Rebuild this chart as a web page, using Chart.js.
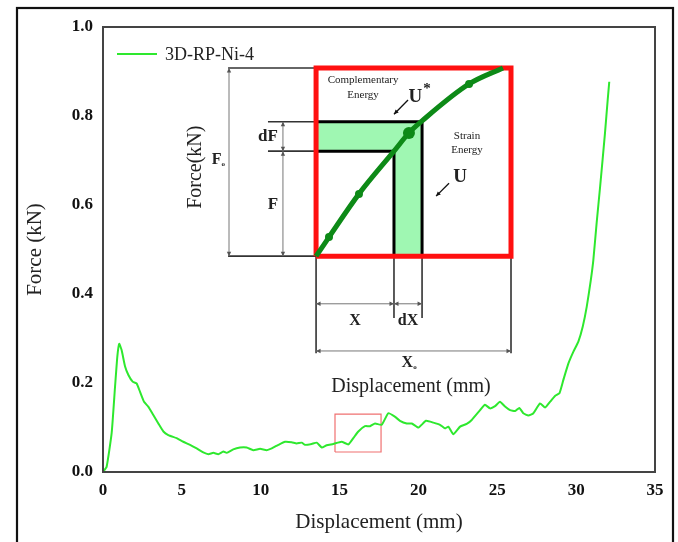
<!DOCTYPE html>
<html><head><meta charset="utf-8">
<script src="https://cdn.jsdelivr.net/npm/chart.js@4.4.0/dist/chart.umd.min.js"></script>
<style>html,body{margin:0;padding:0;background:#fff;}#wrap{width:678px;height:542px;}</style>
</head><body><div id="wrap"><canvas id="c" width="678" height="542"></canvas></div>
<script>
// ---- main series ----
const seriesLabel = '3D-RP-Ni-4';
const displacement = [0,0.23,0.55,0.76,0.91,1.03,1.18,1.40,1.61,1.88,2.13,2.35,2.60,2.87,3.19,3.51,3.83,4.14,4.67,5.09,5.52,5.94,6.36,6.68,7.00,7.31,7.63,7.84,8.26,8.69,9.11,9.53,9.96,10.38,10.70,11.12,11.54,11.96,12.28,12.60,12.81,13.23,13.55,13.87,14.18,14.60,15.13,15.56,15.87,16.19,16.61,16.93,17.25,17.67,18.09,18.52,18.83,19.26,19.58,20.00,20.48,20.95,21.37,21.69,21.90,22.21,22.64,23.06,23.38,23.91,24.22,24.54,24.86,25.17,25.49,25.81,26.13,26.40,26.65,26.97,27.29,27.71,28.03,28.35,28.66,28.94,29.19,29.51,29.82,30.14,30.42,30.67,30.93,31.09,31.30,31.52,31.83,32.00,32.10];
const force = [0,0.012,0.088,0.19,0.26,0.288,0.274,0.237,0.218,0.203,0.199,0.180,0.158,0.147,0.128,0.109,0.091,0.083,0.076,0.068,0.061,0.053,0.044,0.040,0.043,0.040,0.046,0.043,0.051,0.055,0.055,0.049,0.052,0.049,0.053,0.061,0.068,0.067,0.064,0.066,0.061,0.063,0.066,0.055,0.060,0.063,0.068,0.062,0.076,0.091,0.103,0.103,0.109,0.106,0.132,0.124,0.115,0.109,0.109,0.100,0.115,0.111,0.106,0.098,0.102,0.085,0.102,0.108,0.117,0.139,0.151,0.143,0.148,0.158,0.147,0.139,0.137,0.144,0.132,0.127,0.132,0.154,0.145,0.158,0.171,0.177,0.207,0.244,0.270,0.293,0.327,0.371,0.431,0.476,0.560,0.641,0.762,0.836,0.877];
const xTicks = [0,5,10,15,20,25,30,35];
const yTicks = [0.0,0.2,0.4,0.6,0.8,1.0];
// highlighted window on the curve
const highlightX = [14.71, 17.63];
const highlightY = [0.045, 0.130];
// ---- inset schematic (in main-axis units) ----
const schemXLevels = [13.51, 18.45, 20.23, 25.87];   // origin, X, X+dX, Xo
const schemFLevels = [0.485, 0.721, 0.787, 0.908];   // origin, F, F+dF, Fo
const schemCurveX = [13.51,14.33,16.23,18.45,19.40,20.23,23.21,25.36];
const schemCurveY = [0.485,0.528,0.625,0.721,0.762,0.789,0.872,0.908];
const schemMarkerIdx = [1,2,4,6];
const schemMarkerSize = [4,4,6,4];
const leaderLeftX = [7.93, 10.46];     // start of horizontal leaders (Fo, dF)
const leaderBottomY = [0.267, 0.346];  // end of vertical leaders (Xo, dX)
const dimArrowX = [7.99, 11.41];
const dimArrowY = [0.272, 0.378];

const GREEN = '#2ee82e', DARK = '#0d8a17', BAND = '#9ff7b2', RED = '#ff1010';
const serif = "'Liberation Serif','Times New Roman',serif";

const [ox, xx, xdx, xo] = schemXLevels;
const [oy, ff, fdf, fo] = schemFLevels;
const pts = (xs, ys) => xs.map((x, i) => ({x, y: ys[i]}));
const seg = (a, b) => [{x: a[0], y: a[1]}, {x: b[0], y: b[1]}];

const thickSegs = [
  seg([ox, fdf], [xdx, fdf]), seg([ox, ff], [xx, ff]),
  seg([xx, ff], [xx, oy]), seg([xdx, fdf], [xdx, oy])
];
const thinSegs = [
  seg([leaderLeftX[0], fo], [ox, fo]), seg([leaderLeftX[0], oy], [ox, oy]),
  seg([leaderLeftX[1], fdf], [ox, fdf]), seg([leaderLeftX[1], ff], [ox, ff]),
  seg([ox, oy], [ox, leaderBottomY[0]]), seg([xo, oy], [xo, leaderBottomY[0]]),
  seg([xx, oy], [xx, leaderBottomY[1]]), seg([xdx, oy], [xdx, leaderBottomY[1]])
];

const datasets = [];
datasets.push({label: seriesLabel, data: pts(displacement, force), showLine: true, borderColor: GREEN, borderWidth: 2, pointRadius: 0, tension: 0.15, order: 1});
datasets.push({label: '_hl', data: pts([highlightX[0], highlightX[1], highlightX[1], highlightX[0], highlightX[0]], [highlightY[0], highlightY[0], highlightY[1], highlightY[1], highlightY[0]]), showLine: true, borderColor: '#f07070', borderWidth: 1.2, pointRadius: 0, order: 2});
datasets.push({label: '_markers', data: schemMarkerIdx.map(i => ({x: schemCurveX[i], y: schemCurveY[i]})), showLine: false, pointRadius: schemMarkerSize, pointBackgroundColor: DARK, pointBorderWidth: 0, order: 3});
datasets.push({label: '_curve', data: pts(schemCurveX, schemCurveY), showLine: true, borderColor: DARK, borderWidth: 5, pointRadius: 0, cubicInterpolationMode: 'monotone', order: 4});
datasets.push({label: '_box', data: pts([ox, xo, xo, ox, ox], [oy, oy, fo, fo, oy]), showLine: true, borderColor: RED, borderWidth: 5, pointRadius: 0, order: 5, borderJoinStyle: 'miter'});
thickSegs.forEach(s => datasets.push({label: '_t', data: s, showLine: true, borderColor: '#000', borderWidth: 3, pointRadius: 0, order: 6}));
datasets.push({label: '_band', data: pts([ox, xdx, xdx, xx, xx, ox, ox], [fdf, fdf, oy, oy, ff, ff, fdf]), showLine: true, borderWidth: 0, borderColor: 'rgba(0,0,0,0)', backgroundColor: BAND, fill: 'shape', pointRadius: 0, order: 7});
thinSegs.forEach(s => datasets.push({label: '_l', data: s, showLine: true, borderColor: '#333', borderWidth: 1.6, pointRadius: 0, order: 8}));

function head(ctx, x1, y1, x2, y2, size) {
  const a = Math.atan2(y2 - y1, x2 - x1);
  ctx.beginPath();
  ctx.moveTo(x2, y2);
  ctx.lineTo(x2 - size * Math.cos(a - 0.45), y2 - size * Math.sin(a - 0.45));
  ctx.lineTo(x2 - size * Math.cos(a + 0.45), y2 - size * Math.sin(a + 0.45));
  ctx.closePath(); ctx.fill();
}
function dim(ctx, x1, y1, x2, y2) {
  ctx.beginPath(); ctx.moveTo(x1, y1); ctx.lineTo(x2, y2); ctx.stroke();
  head(ctx, x1, y1, x2, y2, 5); head(ctx, x2, y2, x1, y1, 5);
}
function txt(ctx, s, x, y, font, align) {
  ctx.font = font; ctx.textAlign = align || 'center'; ctx.textBaseline = 'middle'; ctx.fillText(s, x, y);
}

const decor = {
  id: 'decor',
  afterDatasetsDraw(chart) {
    const ctx = chart.ctx, X = v => chart.scales.x.getPixelForValue(v), Y = v => chart.scales.y.getPixelForValue(v);
    const a = chart.chartArea;
    ctx.save();
    // plot frame
    ctx.strokeStyle = '#444'; ctx.lineWidth = 2;
    ctx.strokeRect(a.left, a.top, a.right - a.left, a.bottom - a.top);
    // legend
    ctx.strokeStyle = GREEN; ctx.lineWidth = 2;
    ctx.beginPath(); ctx.moveTo(a.left + 14, a.top + 27); ctx.lineTo(a.left + 54, a.top + 27); ctx.stroke();
    ctx.fillStyle = '#222';
    txt(ctx, seriesLabel, a.left + 62, a.top + 28, `18px ${serif}`, 'left');
    // dimension arrows
    ctx.strokeStyle = '#777'; ctx.fillStyle = '#555'; ctx.lineWidth = 1;
    dim(ctx, X(dimArrowX[0]), Y(fo), X(dimArrowX[0]), Y(oy));
    dim(ctx, X(dimArrowX[1]), Y(fdf), X(dimArrowX[1]), Y(ff));
    dim(ctx, X(dimArrowX[1]), Y(ff), X(dimArrowX[1]), Y(oy));
    dim(ctx, X(ox), Y(dimArrowY[1]), X(xx), Y(dimArrowY[1]));
    dim(ctx, X(xx), Y(dimArrowY[1]), X(xdx), Y(dimArrowY[1]));
    dim(ctx, X(ox), Y(dimArrowY[0]), X(xo), Y(dimArrowY[0]));
    // pointer arrows
    ctx.strokeStyle = '#111'; ctx.fillStyle = '#111'; ctx.lineWidth = 1.3;
    const ptr = (x1, y1, x2, y2) => { ctx.beginPath(); ctx.moveTo(x1, y1); ctx.lineTo(x2, y2); ctx.stroke(); head(ctx, x1, y1, x2, y2, 5); };
    ptr(X(19.34), Y(0.836), X(18.45), Y(0.804));
    ptr(X(21.94), Y(0.649), X(21.12), Y(0.620));
    // texts
    ctx.fillStyle = '#222';
    txt(ctx, 'Complementary', X(16.49), Y(0.881), `11px ${serif}`);
    txt(ctx, 'Energy', X(16.49), Y(0.848), `11px ${serif}`);
    txt(ctx, 'Strain', X(23.08), Y(0.755), `11px ${serif}`);
    txt(ctx, 'Energy', X(23.08), Y(0.723), `11px ${serif}`);
    txt(ctx, 'U', X(19.80), Y(0.843), `bold 19px ${serif}`);
    txt(ctx, '*', X(20.55), Y(0.860), `bold 15px ${serif}`);
    txt(ctx, 'U', X(22.64), Y(0.663), `bold 19px ${serif}`);
    txt(ctx, 'dF', X(10.46), Y(0.753), `bold 17px ${serif}`);
    txt(ctx, 'F', X(10.78), Y(0.602), `bold 17px ${serif}`);
    txt(ctx, 'F', X(7.20), Y(0.701), `bold 16px ${serif}`);
    txt(ctx, 'o', X(7.62), Y(0.691), `bold 7px ${serif}`);
    txt(ctx, 'X', X(15.98), Y(0.339), `bold 16px ${serif}`);
    txt(ctx, 'dX', X(19.34), Y(0.339), `bold 16px ${serif}`);
    txt(ctx, 'X', X(19.30), Y(0.246), `bold 16px ${serif}`);
    txt(ctx, 'o', X(19.78), Y(0.236), `bold 7px ${serif}`);
    txt(ctx, 'Displacement (mm)', X(19.53), Y(0.191), `20px ${serif}`);
    ctx.save();
    ctx.translate(X(5.90), Y(0.685)); ctx.rotate(-Math.PI / 2);
    txt(ctx, 'Force(kN)', 0, 0, `20px ${serif}`);
    ctx.restore();
    ctx.restore();
  },
  afterDraw(chart) {
    const ctx = chart.ctx;
    ctx.save(); ctx.strokeStyle = '#111'; ctx.lineWidth = 2.2;
    ctx.strokeRect(17, 8, 656, 600);
    ctx.restore();
  }
};

const chart = new Chart(document.getElementById('c'), {
  type: 'scatter',
  data: {datasets},
  options: {
    responsive: false, animation: false, devicePixelRatio: 1,
    layout: {padding: {left: 0, top: 27, right: 23, bottom: 0}},
    plugins: {legend: {display: false}, tooltip: {enabled: false}},
    scales: {
      x: {
        type: 'linear', min: 0, max: 35,
        afterBuildTicks: s => { s.ticks = xTicks.map(v => ({value: v})); },
        afterFit: s => { s.height = 70; },
        grid: {display: false, drawTicks: false}, border: {display: false},
        ticks: {color: '#111', font: {family: serif, size: 17, weight: 'bold'}, padding: 8, maxRotation: 0, callback: v => String(v)},
        title: {display: true, text: 'Displacement (mm)', color: '#222', font: {family: serif, size: 21}, padding: {top: 0, bottom: 7}}
      },
      y: {
        type: 'linear', min: 0, max: 1,
        afterBuildTicks: s => { s.ticks = yTicks.map(v => ({value: v})); },
        afterFit: s => { s.width = 103; },
        grid: {display: false, drawTicks: false}, border: {display: false},
        ticks: {color: '#111', font: {family: serif, size: 17, weight: 'bold'}, padding: 10, callback: v => Number(v).toFixed(1)},
        title: {display: true, text: 'Force (kN)', color: '#222', font: {family: serif, size: 21}, padding: {top: 23, bottom: 0}}
      }
    }
  },
  plugins: [decor]
});
</script></body></html>
